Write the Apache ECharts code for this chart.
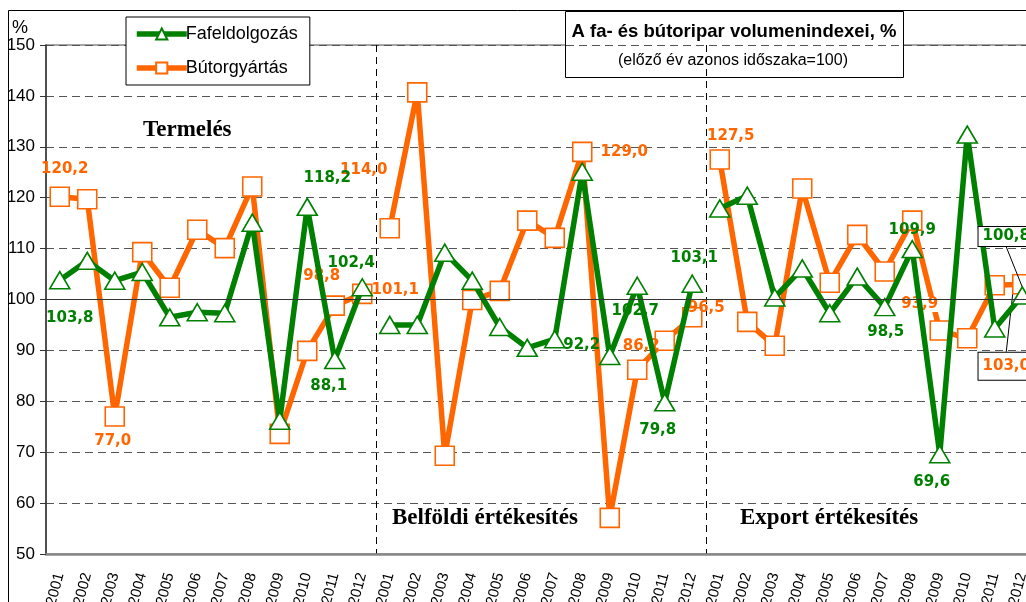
<!DOCTYPE html>
<html lang="hu">
<head>
	<meta charset="UTF-8">
	<title>A fa- és bútoripar volumenindexei</title>
	<script src="https://cdn.jsdelivr.net/npm/echarts@6/dist/echarts.min.js"></script>
	<style>
		html, body { margin:0; padding:0; background:#fff; }
		#chart { width:1026px; height:602px; }
	</style>
</head>
<body>
	<div id="chart"></div>

	<script>
	/* adatok */
	var years = ['2001','2002','2003','2004','2005','2006','2007','2008','2009','2010','2011','2012'];
	var yTicks = [50, 150, 10];

	var fafaTermeles  = [103.8, 107.6, 103.7, 105.4, 96.5, 97.5, 97.3, 115.1, 76.2, 118.2, 88.1, 102.4];
	var fafaBelfoldi  = [95.0, 95.0, 109.2, 103.7, 94.6, 90.5, 92.2, 125.1, 88.9, 102.7, 79.8, 103.1];
	var fafaExport    = [117.9, 120.4, 100.4, 106.1, 97.3, 104.5, 98.5, 109.9, 69.6, 132.4, 94.3, 100.8];

	var butorTermeles = [120.2, 119.7, 77.0, 109.3, 102.3, 113.7, 110.1, 122.2, 73.6, 89.9, 98.8, 101.1];
	var butorBelfoldi = [114.0, 140.7, 69.3, 99.9, 101.7, 115.5, 112.1, 129.0, 57.1, 86.2, 91.9, 96.5];
	var butorExport   = [127.5, 95.6, 90.9, 121.8, 103.3, 112.7, 105.5, 115.5, 93.9, 92.4, 102.8, 103.0];

	var groupNames = ['Termelés', 'Belföldi értékesítés', 'Export értékesítés'];

	// feliratok helye (index : [dx, dy] a ponthoz képest)
	var fafaLabels = [
		{0:[10,38], 9:[20,-29], 10:[-6,26], 11:[-11,-24]},
		{6:[27,6], 9:[-2,25], 10:[-7,28], 11:[2,-26]},
		{6:[1,25], 7:[0,-19], 8:[-8,28]}
	];
	var butorLabels = [
		{0:[5,-28], 2:[-2,25], 10:[-13,-29], 11:[33,-4]},
		{0:[-26,-58], 7:[42,0], 9:[4,-24], 11:[14,-9]},
		{0:[11,-23], 8:[-20,-26]}
	];
	// keretes feliratok vezetovonallal (export 2012)
	var fafaCallout  = {group:2, idx:11, dx:-16, dy:-59, pad:[2,4]};
	var butorCallout = {group:2, idx:11, dx:-16, dy:82, pad:[6,4]};

	var GREEN = '#008000';
	var ORANGE = '#FF6600';

	var categories = years.concat(years, years);

	function fmt(v){ return v.toFixed(1).replace('.', ','); }

	function buildData(values, group, labels, color, callout){
		var out = [];
		for (var i = 0; i < categories.length; i++) {
			var k = i - group * 12;
			if (k < 0 || k > 11) { out.push('-'); continue; }
			var item = { value: values[k] };
			if (labels[k]) {
				item.label = { show:true };
				if (color === ORANGE && ((k === 10 && group === 0) || (k === 8 && group === 2))) {
					item.label.backgroundColor = '#fff';
					item.label.padding = [0, 1];
				}
			}
			if (callout && callout.group === group && callout.idx === k) {
				item.label = {
					show:true,
					backgroundColor:'#fff', borderColor:'#000', borderWidth:1,
					padding:callout.pad
				};
				item.labelLine = { show:true, lineStyle:{ color:'#000', width:1 } };
			}
			out.push(item);
		}
		return out;
	}

	function makeSeries(name, values, group, labels, color, symbol, size, callout){
		return {
			name: name,
			type: 'line',
			data: buildData(values, group, labels, color, callout),
			symbol: symbol,
			symbolSize: size,
			showAllSymbol: true,
			lineStyle: { color: color, width: 5.5 },
			itemStyle: { color: '#fff', borderColor: color, borderWidth: 1.6 },
			label: {
				show: false,
				position: 'inside',
				color: color,
				fontFamily: 'DejaVu Sans',
				fontWeight: 'bold',
				fontSize: 15,
				formatter: function(p){ return fmt(p.value); }
			},
			labelLayout: function(p){
				var k = p.dataIndex - group * 12;
				if (callout && callout.group === group && callout.idx === k) {
					return { dx: callout.dx, dy: callout.dy };
				}
				if (labels[k]) {
					return { dx: labels[k][0], dy: labels[k][1] };
				}
			},
			emphasis: { disabled: true },
			z: color === GREEN ? 3 : 2
		};
	}

	var series = [];
	var fafaArr = [fafaTermeles, fafaBelfoldi, fafaExport];
	var butorArr = [butorTermeles, butorBelfoldi, butorExport];
	for (var g = 0; g < 3; g++) {
		series.push(makeSeries('Bútorgyártás', butorArr[g], g, butorLabels[g], ORANGE, 'rect', 19, butorCallout));
		series.push(makeSeries('Fafeldolgozás', fafaArr[g], g, fafaLabels[g], GREEN, 'triangle', [20,17], fafaCallout));
	}
	// 100-as vonal
	series[0].markLine = {
		silent: true, symbol: 'none', label: { show:false },
		lineStyle: { color:'#333', width:1, type:'solid' },
		data: [{ yAxis: 100 }]
	};

	var chart = echarts.init(document.getElementById('chart'));
	var option = {
		backgroundColor: '#fff',
		animation: false,
		grid: {
			left: 46, right: -10, top: 45, bottom: 48,
			containLabel: false,
			outerBoundsMode: 'none',
			show: true, borderColor: '#888', borderWidth: 1.5, backgroundColor: 'transparent'
		},
		legend: {
			data: ['Fafeldolgozás', 'Bútorgyártás'],
			orient: 'vertical',
			left: 126, top: 17,
			padding: [8, 12, 8, 8],
			itemGap: 16,
			itemWidth: 50,
			itemHeight: 14,
			backgroundColor: '#fff',
			borderColor: '#000',
			borderWidth: 1,
			lineStyle: { width: 5.5 },
			textStyle: { fontFamily: 'Liberation Sans', fontSize: 18, color: '#000', padding: [0, 6, 0, -6] }
		},
		xAxis: {
			type: 'category',
			data: categories,
			boundaryGap: true,
			axisLine: { lineStyle: { color: '#888', width: 2.5 } },
			axisTick: { show: false },
			axisLabel: {
				interval: 0, rotate: 75, margin: 19,
				fontFamily: 'Liberation Sans Narrow, Liberation Sans', fontSize: 15, color: '#000'
			},
			splitLine: {
				show: true,
				interval: function(index){ return index === 12 || index === 24; },
				lineStyle: { color: '#000', width: 1, type: [7, 5] }
			}
		},
		yAxis: {
			type: 'value',
			min: yTicks[0], max: yTicks[1], interval: yTicks[2],
			name: '%',
			nameLocation: 'end',
			nameGap: 7,
			nameTextStyle: { align: 'right', verticalAlign: 'bottom', padding: [0, 18, 0, 0],
				fontFamily: 'Liberation Sans', fontSize: 18, color: '#000' },
			axisLine: { show: true, lineStyle: { color: '#333', width: 1.5 } },
			axisTick: { show: true, length: 6, lineStyle: { color: '#333' } },
			axisLabel: { fontFamily: 'Liberation Sans Narrow, Liberation Sans', fontSize: 17, color: '#000', margin: 11 },
			splitLine: { lineStyle: { color: '#555', width: 1, type: [8, 5] } }
		},
		graphic: [
			{ type:'rect', silent:true, z:-1, shape:{ x:8.5, y:10.5, width:1040, height:620 },
				style:{ fill:'none', stroke:'#000', lineWidth:1 } },
			{ type:'group', left:565, top:11, z:100, children:[
				{ type:'rect', shape:{ x:0.5, y:0.5, width:338, height:66 },
					style:{ fill:'#fff', stroke:'#000', lineWidth:1 } },
				{ type:'text', x:169, y:21, style:{ text:'A fa- és bútoripar volumenindexei, %',
					fontFamily:'Liberation Sans', fontWeight:'bold', fontSize:18.5, fill:'#000',
					textAlign:'center', textVerticalAlign:'middle' } },
				{ type:'text', x:168, y:50, style:{ text:'(előző év azonos időszaka=100)',
					fontFamily:'Liberation Sans', fontSize:16, fill:'#000',
					textAlign:'center', textVerticalAlign:'middle' } }
			]},
			{ type:'text', left:143, top:119, style:{ text:groupNames[0],
				fontFamily:'Liberation Serif', fontWeight:'bold', fontSize:23, fill:'#000' } },
			{ type:'text', left:392, top:507, style:{ text:groupNames[1],
				fontFamily:'Liberation Serif', fontWeight:'bold', fontSize:23, fill:'#000' } },
			{ type:'text', left:740, top:507, style:{ text:groupNames[2],
				fontFamily:'Liberation Serif', fontWeight:'bold', fontSize:23, fill:'#000' } }
		],
		series: series
	};
	chart.setOption(option);
	</script>
</body>
</html>
